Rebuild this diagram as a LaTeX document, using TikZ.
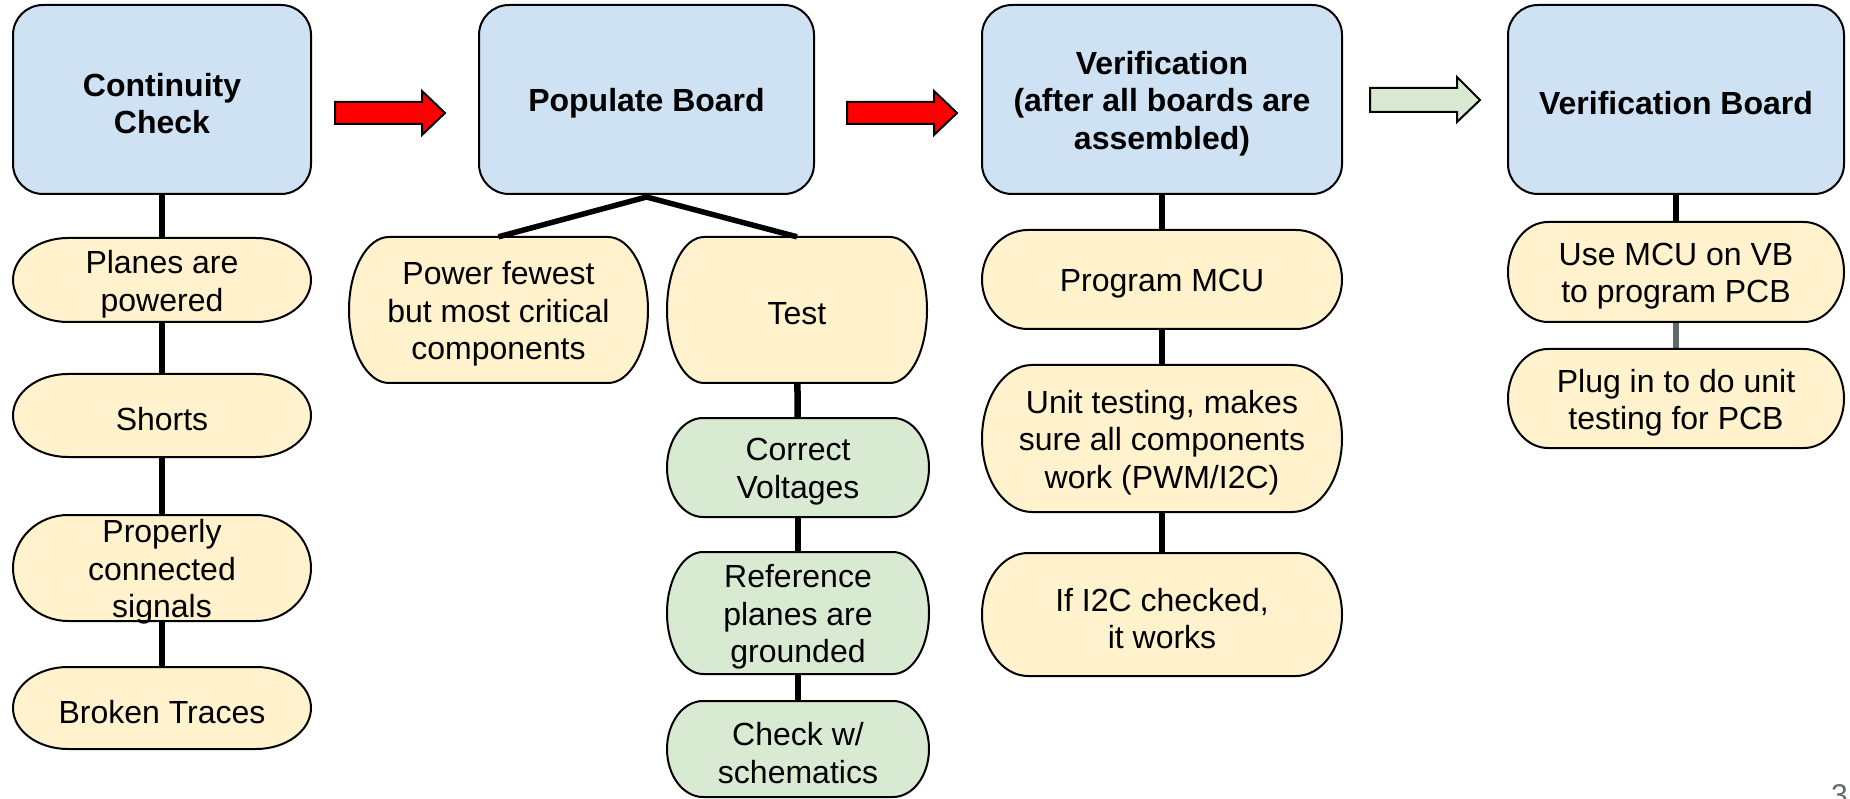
\documentclass[tikz,border=0pt]{standalone}
\usepackage{fontspec}
\setmainfont{Liberation Sans}
\usetikzlibrary{backgrounds}
\definecolor{bluefill}{RGB}{207,226,243}
\definecolor{yelfill}{RGB}{255,242,204}
\definecolor{grnfill}{RGB}{217,234,211}
\definecolor{redfill}{RGB}{255,0,0}
\definecolor{slategr}{RGB}{95,107,107}
\tikzset{
  txt/.style={font=\fontsize{32}{37.5}\selectfont, align=center, inner sep=0pt},
  boldtxt/.style={txt, font=\fontsize{32}{37.5}\selectfont\bfseries},
  bluebox/.style={draw=black, line width=2pt, fill=bluefill, rounded corners=30pt, inner sep=0pt},
  pillline/.style={draw=black, line width=2pt},
  pilltext/.style={txt, shape=rectangle, yshift=-4pt},
  conn/.style={line width=6.5pt, draw=black},
  diag/.style={line width=5.5pt, draw=black, line join=miter},
  blockarrow/.style={draw=black, line width=2pt, line join=miter},
}
% name, cx, cy, w, h, rx, fill, text
\newcommand\pillnode[8]{%
  \path[pillline, fill=#7] ({#2-#4/2+#6},{#3-#5/2}) -- ({#2+#4/2-#6},{#3-#5/2})
    arc[start angle=90, end angle=-90, x radius=#6pt, y radius={#5/2*1pt}]
    -- ({#2-#4/2+#6},{#3+#5/2})
    arc[start angle=270, end angle=90, x radius=#6pt, y radius={#5/2*1pt}] -- cycle;
  \node[pilltext, minimum width=#4pt, minimum height=#5pt] (#1) at (#2,#3) {#8};%
}
\begin{document}
\begin{tikzpicture}[x=1pt, y=-1pt]
\useasboundingbox (0,0) rectangle (1850,799);

% top row boxes
\node[bluebox, minimum width=298pt, minimum height=189pt] (cont) at (162,99.5) {};
\node[boldtxt] (contt) at ([yshift=-4pt]cont.center) {Continuity\\Check};
\node[bluebox, minimum width=335pt, minimum height=189pt] (pop) at (646.5,99.5) {};
\node[boldtxt] (popt) at ([yshift=-4pt]pop.center) {Populate Board};
\node[bluebox, minimum width=360pt, minimum height=189pt] (ver) at (1162,99.5) {};
\node[boldtxt] (vert) at ([yshift=-4pt]ver.center) {Verification\\(after all boards are\\assembled)};
\node[bluebox, minimum width=336pt, minimum height=189pt] (vb) at (1676,99.5) {};
\node[boldtxt] (vbt) at ([yshift=-4pt]vb.center) {Verification Board};

% block arrows
\path[blockarrow, fill=redfill] (335,102) -- (422,102) -- (422,91) -- (445,113) -- (422,135) -- (422,124) -- (335,124) -- cycle;
\path[blockarrow, fill=redfill] (847,102) -- (934,102) -- (934,91) -- (957,113) -- (934,135) -- (934,124) -- (847,124) -- cycle;
\path[blockarrow, fill=grnfill] (1370,88) -- (1457,88) -- (1457,77) -- (1480,100) -- (1457,122) -- (1457,112) -- (1370,112) -- cycle;

% continuity column
\pillnode{planes}{162}{280}{298}{84}{55}{yelfill}{Planes are\\powered}
\pillnode{shorts}{162}{415.5}{298}{83}{55}{yelfill}{Shorts}
\pillnode{proper}{162}{568}{298}{106}{55}{yelfill}{Properly\\connected\\signals}
\pillnode{broken}{162}{708}{298}{82}{55}{yelfill}{Broken Traces}

% populate column
\pillnode{power}{498.5}{310}{299}{146}{40}{yelfill}{Power fewest\\but most critical\\components}
\pillnode{test}{797}{310}{260}{146}{37}{yelfill}{Test}
\pillnode{volt}{798}{467.5}{262}{99}{36}{grnfill}{Correct\\Voltages}
\pillnode{refp}{798}{613}{262}{122}{36}{grnfill}{Reference\\planes are\\grounded}
\pillnode{schem}{798}{749}{262}{96}{36}{grnfill}{Check w/\\schematics}

% verification column
\pillnode{prog}{1162}{279.5}{360}{99}{46}{yelfill}{Program MCU}
\pillnode{unit}{1162}{438.5}{360}{147}{50}{yelfill}{Unit testing, makes\\sure all components\\work (PWM/I2C)}
\pillnode{iic}{1162}{614.5}{360}{123}{46}{yelfill}{If I2C checked,\\it works}

% verification board column
\pillnode{usemcu}{1676}{272}{336}{100}{40}{yelfill}{Use MCU on VB\\to program PCB}
\pillnode{plug}{1676}{398.5}{336}{99}{40}{yelfill}{Plug in to do unit\\testing for PCB}

% connectors (behind boxes)
\begin{scope}[on background layer]
\draw[conn] (cont.center) -- (planes.center);
\draw[conn] (planes.center) -- (shorts.center);
\draw[conn] (shorts.center) -- (proper.center);
\draw[conn] (proper.center) -- (broken.center);
\draw[conn] (test.center) -- (volt.center);
\draw[conn] (volt.center) -- (refp.center);
\draw[conn] (refp.center) -- (schem.center);
\draw[conn] (ver.center) -- (prog.center);
\draw[conn] (prog.center) -- (unit.center);
\draw[conn] (unit.center) -- (iic.center);
\draw[conn] (vb.center) -- (usemcu.center);
\draw[conn, draw=slategr] (usemcu.center) -- (plug.center);
\end{scope}

% branching lines from Populate Board
\draw[diag] ([yshift=4pt]power.north) -- ([yshift=-2pt]pop.south) -- ([yshift=4pt]test.north);

% partial page number
\node[anchor=base west, inner sep=0pt, text=slategr, font=\fontsize{30}{36}\selectfont] (pagenum) at (1831,805) {3};
\end{tikzpicture}
\end{document}
